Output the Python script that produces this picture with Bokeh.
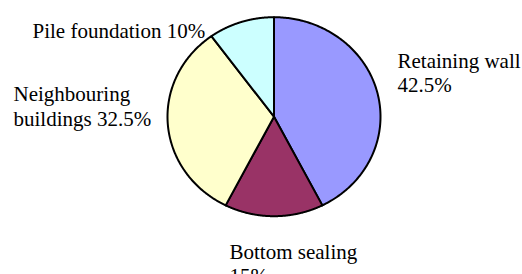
import numpy as np
from bokeh.plotting import figure
from bokeh.models import Range1d, Label, ColumnDataSource
from bokeh.embed import file_html
from bokeh.resources import INLINE

# ---- data ----
categories = ["Retaining wall", "Bottom sealing", "Neighbouring buildings", "Pile foundation"]
shares = [42.5, 15.0, 32.5, 10.0]
colors = ["#9999FF", "#993366", "#FFFFCC", "#CCFFFF"]
label_lines = [
    ["Retaining wall", "42.5%"],
    ["Bottom sealing", "15%"],
    ["Neighbouring", "buildings 32.5%"],
    ["Pile foundation 10%"],
]

# ---- layout (screen px from window top-left) ----
W, H = 522, 274
OFF = 0
cx, cy, rx, ry = 273.5, 116.2, 106.5, 99.5
label_pos = [
    [(397, 60.5), (397, 84.5)],
    [(229, 251), (229, 275)],
    [(13, 93.5), (13, 118.5)],
    [(32, 30.5)],
]

# unit-circle data space mapped onto an elliptical pie on screen
px, py = cx - OFF, H - (cy - OFF)
x_range = Range1d(-px / rx, (W - px) / rx)
y_range = Range1d(-py / ry, (H - py) / ry)

p = figure(width=W, height=H, x_range=x_range, y_range=y_range,
           output_backend="svg", toolbar_location=None, min_border=0)
p.axis.visible = False
p.grid.visible = False
p.outline_line_color = None
p.background_fill_color = "white"
p.border_fill_color = "white"

total = sum(shares)
xs, ys = [], []
start = np.pi / 2
for s in shares:
    sweep = 2 * np.pi * s / total
    t = np.linspace(start, start - sweep, 200)
    xs.append([0.0] + list(np.cos(t)) + [0.0])
    ys.append([0.0] + list(np.sin(t)) + [0.0])
    start -= sweep

src = ColumnDataSource(dict(xs=xs, ys=ys, color=colors, name=categories))
p.patches("xs", "ys", source=src, fill_color="color", line_color="black",
          line_width=2, line_join="round")

for lines, poss in zip(label_lines, label_pos):
    for txt, (lx, ly) in zip(lines, poss):
        p.add_layout(Label(x=lx - OFF, y=H - (ly - OFF), x_units="screen", y_units="screen",
                           text=txt, text_font="'Liberation Serif', 'Times New Roman', serif",
                           text_font_size="21px",
                           text_color="black", text_baseline="alphabetic",
                           text_align="left"))

open("out.html", "w").write(file_html(p, INLINE))
